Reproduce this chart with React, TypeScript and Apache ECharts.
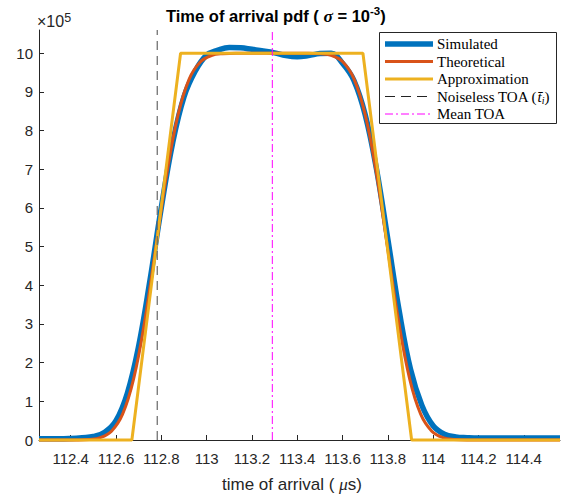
import React, { useEffect, useRef } from "react";
import * as echarts from "echarts";

// ---- data (values in units of 1e5) ----
const X_TICKS = [112.4, 112.6, 112.8, 113, 113.2, 113.4, 113.6, 113.8, 114, 114.2, 114.4];
const Y_TICKS = [0, 1, 2, 3, 4, 5, 6, 7, 8, 9, 10];

const SIM_X = [112.26, 112.35, 112.4, 112.45, 112.5, 112.55, 112.6, 112.65, 112.7, 112.75, 112.8, 112.85, 112.9, 112.95, 113.0, 113.05, 113.1, 113.15, 113.2, 113.25, 113.3, 113.35, 113.4, 113.45, 113.5, 113.55, 113.6, 113.65, 113.7, 113.75, 113.8, 113.85, 113.9, 113.95, 114.0, 114.05, 114.1, 114.15, 114.2, 114.56];
const SIM_Y = [0.03, 0.03, 0.04, 0.06, 0.09, 0.2, 0.5, 1.21, 2.43, 4.13, 6.01, 7.68, 8.87, 9.54, 9.95, 10.08, 10.15, 10.14, 10.1, 10.06, 10.01, 9.94, 9.91, 9.94, 9.99, 10.0, 9.74, 9.3, 8.41, 7.0, 5.19, 3.34, 1.83, 0.9, 0.37, 0.15, 0.08, 0.06, 0.05, 0.05];

const THEO_X = [112.26, 112.43, 112.482, 112.531, 112.58, 112.629, 112.678, 112.727, 112.776, 112.825, 112.874, 112.923, 112.972, 113.021, 113.07, 113.13, 113.45, 113.504, 113.553, 113.602, 113.651, 113.7, 113.749, 113.798, 113.847, 113.896, 113.945, 113.994, 114.043, 114.092, 114.15, 114.56];
const THEO_Y = [0, 0.001, 0.013, 0.062, 0.228, 0.668, 1.587, 3.085, 5.0, 6.915, 8.413, 9.332, 9.772, 9.938, 9.987, 9.999, 9.999, 9.987, 9.938, 9.772, 9.332, 8.413, 6.915, 5.0, 3.085, 1.587, 0.668, 0.228, 0.062, 0.013, 0.001, 0];

const APPROX_X = [112.26, 112.67, 112.885, 113.69, 113.905, 114.56];
const APPROX_Y = [0, 0, 10, 10, 0, 0];

const NOISELESS_TOA = 112.782;
const MEAN_TOA = 113.29;

const X_MIN = 112.26;
const X_MAX = 114.56;
const Y_MIN = 0;
const Y_MAX = 10.6;

const LEGEND_LABELS = ["Simulated", "Theoretical", "Approximation", "Noiseless TOA (", "Mean TOA"];

const zip = (xs: number[], ys: number[]) => xs.map((x, i) => [x, ys[i]]);

const AX = "#262626";
const SANS = "'Liberation Sans', Arial, Helvetica, sans-serif";
const SERIF = "'Liberation Serif', 'Times New Roman', serif";

export default function App() {
  const ref = useRef<HTMLDivElement>(null);
  useEffect(() => {
    document.body.style.margin = "0";
    const chart = echarts.init(ref.current!, null, { renderer: "svg" });

    const rowY = [44, 61.5, 79, 96.5, 114];
    const lx0 = 385, lx1 = 433, tx = 437;
    const legendLines: any[] = [
      { color: "#0072BD", width: 5.5, dash: null },
      { color: "#D95319", width: 3, dash: null },
      { color: "#EDB120", width: 3, dash: null },
      { color: "#222222", width: 1, dash: [10, 6] },
      { color: "#FF00FF", width: 1, dash: [8, 3, 2, 3] },
    ];
    const legendEls: any[] = [
      {
        type: "rect",
        shape: { x: 379.5, y: 32.5, width: 177, height: 91 },
        style: { fill: "#ffffff", stroke: AX, lineWidth: 1 },
        z: 100,
      },
    ];
    legendLines.forEach((l, i) => {
      legendEls.push({
        type: "line",
        shape: { x1: lx0, y1: rowY[i], x2: lx1, y2: rowY[i] },
        style: { stroke: l.color, lineWidth: l.width, lineDash: l.dash || undefined },
        z: 101,
      });
    });
    LEGEND_LABELS.forEach((t, i) => {
      const isToa = i === 3;
      legendEls.push({
        type: "text",
        x: tx,
        y: rowY[i],
        z: 101,
        style: {
          text: isToa ? `{n|${t}}{it|t\u0304}{sub|i}{n|)}` : t,
          fill: "#000",
          fontFamily: SERIF,
          fontSize: 15,
          align: "left",
          verticalAlign: "middle",
          textAlign: "left",
          textVerticalAlign: "middle",
          rich: isToa
            ? {
                n: { fontFamily: SERIF, fontSize: 15, fill: "#000", lineHeight: 18 },
                it: { fontFamily: SERIF, fontSize: 15, fontStyle: "italic", fill: "#000", lineHeight: 18 },
                sub: { fontFamily: SERIF, fontSize: 10, fontStyle: "italic", fill: "#000", lineHeight: 12, verticalAlign: "bottom" },
              }
            : undefined,
        },
      });
    });

    const option: any = {
      animation: false,
      grid: { left: 39, right: 6, top: 30, bottom: 57, containLabel: false },
      xAxis: {
        type: "value",
        min: X_MIN,
        max: X_MAX,
        axisLine: { show: true, onZero: false, lineStyle: { color: AX, width: 1 } },
        axisTick: { show: true, inside: true, length: 5, lineStyle: { color: AX }, customValues: X_TICKS },
        axisLabel: { color: AX, fontFamily: SANS, fontSize: 15, margin: 11, customValues: X_TICKS, formatter: (v: number) => String(+v.toFixed(1)) },
        splitLine: { show: false },
      },
      yAxis: {
        type: "value",
        min: Y_MIN,
        max: Y_MAX,
        axisLine: { show: true, lineStyle: { color: AX, width: 1 } },
        axisTick: { show: true, inside: true, length: 5, lineStyle: { color: AX }, customValues: Y_TICKS },
        axisLabel: { color: AX, fontFamily: SANS, fontSize: 15, margin: 6, customValues: Y_TICKS },
        splitLine: { show: false },
      },
      series: [
        {
          name: "Simulated",
          type: "line",
          data: zip(SIM_X, SIM_Y),
          showSymbol: false,
          smooth: 0.4,
          clip: false,
          lineStyle: { color: "#0072BD", width: 5.5 },
          z: 2,
        },
        {
          name: "Theoretical",
          type: "line",
          data: zip(THEO_X, THEO_Y),
          showSymbol: false,
          smooth: 0.4,
          clip: false,
          lineStyle: { color: "#D95319", width: 3 },
          z: 3,
        },
        {
          name: "Approximation",
          type: "line",
          data: zip(APPROX_X, APPROX_Y),
          showSymbol: false,
          clip: false,
          lineStyle: { color: "#EDB120", width: 3 },
          z: 4,
        },
        {
          name: "Noiseless TOA",
          type: "line",
          data: [[NOISELESS_TOA, Y_MIN], [NOISELESS_TOA, Y_MAX]],
          showSymbol: false,
          lineStyle: { color: "#666666", width: 1.2, type: [9, 6] },
          z: 5,
        },
        {
          name: "Mean TOA",
          type: "line",
          data: [[MEAN_TOA, Y_MIN], [MEAN_TOA, Y_MAX]],
          showSymbol: false,
          lineStyle: { color: "#FF00FF", width: 1, type: [8, 3, 2, 3] },
          z: 5,
        },
      ],
      graphic: {
        elements: [
          {
            type: "text",
            x: 166,
            y: 16,
            style: {
              text: "{b|Time of arrival pdf ( }{it|\u03c3}{b| = 10}{sup|-3}{b|)}",
              fill: "#000",
              fontFamily: SANS,
              fontSize: 16.5,
              fontWeight: "bold",
              align: "left",
              verticalAlign: "middle",
              textAlign: "left",
              textVerticalAlign: "middle",
              rich: {
                b: { fontFamily: SANS, fontSize: 16.5, fontWeight: "bold", fill: "#000", lineHeight: 22 },
                it: { fontFamily: SERIF, fontSize: 17.5, fontStyle: "italic", fontWeight: "bold", fill: "#000", lineHeight: 22 },
                sup: { fontFamily: SANS, fontSize: 11.5, fontWeight: "bold", fill: "#000", lineHeight: 11, verticalAlign: "top" },
              },
            },
          },
          {
            type: "text",
            x: 37,
            y: 21,
            style: {
              text: "{n|\u00d710}{sup|5}",
              fill: AX,
              fontFamily: SANS,
              fontSize: 16,
              align: "left",
              verticalAlign: "middle",
              textAlign: "left",
              textVerticalAlign: "middle",
              rich: {
                n: { fontFamily: SANS, fontSize: 16, fill: AX, lineHeight: 20 },
                sup: { fontFamily: SANS, fontSize: 12.5, fill: AX, lineHeight: 12, verticalAlign: "top" },
              },
            },
          },
          {
            type: "text",
            x: 292,
            y: 484,
            style: {
              text: "{n|time of arrival ( }{it|\u03bc}{n|s)}",
              fill: AX,
              fontFamily: SANS,
              fontSize: 17,
              align: "center",
              verticalAlign: "middle",
              textAlign: "center",
              textVerticalAlign: "middle",
              rich: {
                n: { fontFamily: SANS, fontSize: 17, fill: AX, lineHeight: 20 },
                it: { fontFamily: SERIF, fontSize: 17.5, fontStyle: "italic", fill: AX, lineHeight: 20 },
              },
            },
          },
          ...legendEls,
        ],
      },
    };
    chart.setOption(option);
    return () => chart.dispose();
  }, []);
  return <div ref={ref} style={{ width: 566, height: 497, position: "absolute", left: 0, top: 0 }} />;
}
